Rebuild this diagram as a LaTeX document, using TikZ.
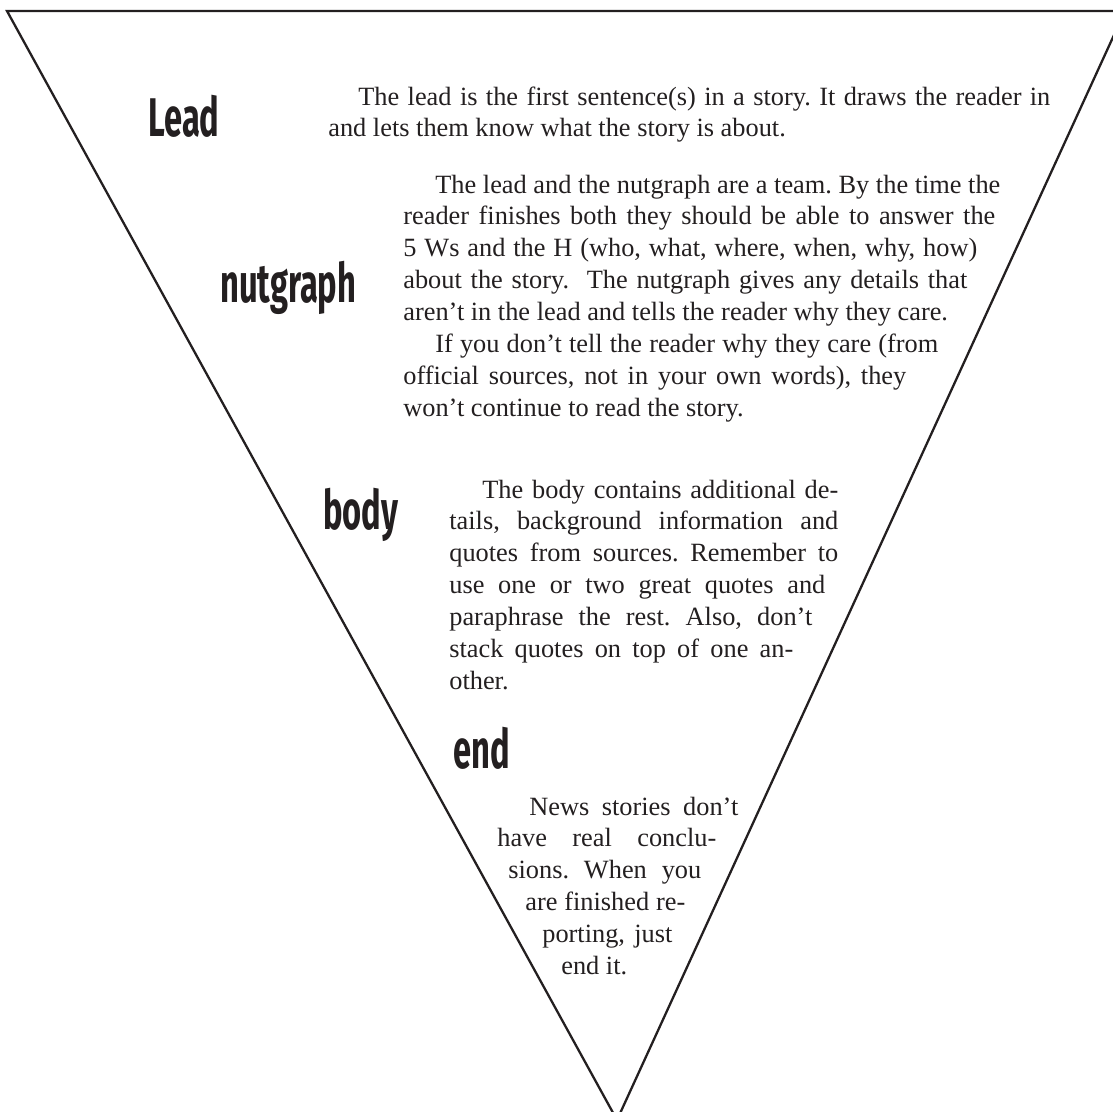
\documentclass[tikz,border=0pt]{standalone}
\usepackage{fontspec}
\setmainfont{Liberation Serif}
\newfontfamily\headfont{Fira Sans}

\definecolor{ink}{HTML}{231F20}
\newdimen\pxu \pxu=0.02cm
\newcommand\sqz[1]{\scalebox{0.6}[1]{#1}}
\newcommand\parset{\frenchspacing\parindent=0pt\leftskip=0pt\rightskip=0pt\spaceskip=0pt\xspaceskip=0pt\parfillskip=0pt plus 1fil\tolerance=9999\hyphenpenalty=10000\relax}

\tikzset{
  head/.style={anchor=base west, inner sep=0pt, text=ink, font=\headfont\bfseries\fontsize{31}{31}\selectfont},
  para/.style={anchor=base west, inner sep=0pt, text=ink, font=\fontsize{15}{18.2}\selectfont}
}

\begin{document}
\begin{tikzpicture}[x=0.02cm, y=-0.02cm]
  \useasboundingbox (0,0) rectangle (1113,1112);
  \clip (0,0) rectangle (1113,1112);
  % the funnel
  \draw[ink, line width=1.3pt] (1125,11) -- (7,11) -- (617,1120) -- cycle;
  % headings
  \node[head] (lead) at (148,136) {\sqz{Lead}};
  \node[head] (nut) at (220,302) {\sqz{nutgraph}};
  \node[head] (body) at (323,529) {\sqz{body}};
  \node[head] (endhead) at (453,768) {\sqz{end}};
  % text blocks
  \node[para, text width=722\pxu] (leadtext) at (328,105) {\parset
    \parshape 2 30\pxu 692\pxu 0pt 722\pxu
    The lead is the first sentence(s) in a story. It draws the reader in\linebreak
    and lets them know what the story is about.\par};
  \node[para, text width=600\pxu] (nuttext) at (403,193) {\parset
    \parshape 5 32\pxu 565\pxu 0pt 592\pxu 0pt 574\pxu 0pt 564\pxu 0pt 560\pxu
    The lead and the nutgraph are a team. By the time the\linebreak
    reader finishes both they should be able to answer the\linebreak
    5 Ws and the H (who, what, where, when, why, how)\linebreak
    about the story.\ \ The nutgraph gives any details that\linebreak
    aren't in the lead and tells the reader why they care.\par
    \parshape 3 32\pxu 503\pxu 0pt 503\pxu 0pt 490\pxu
    If you don't tell the reader why they care (from\linebreak
    official sources, not in your own words), they\linebreak
    won't continue to read the story.\par};
  \node[para, text width=390\pxu] (bodytext) at (449,498) {\parset
    \parshape 7 33\pxu 356\pxu 0pt 389\pxu 0pt 389\pxu 0pt 376\pxu 0pt 363\pxu 0pt 344\pxu 0pt 344\pxu
    The body contains additional de-\linebreak
    tails, background information and\linebreak
    quotes from sources. Remember to\linebreak
    use one or two great quotes and\linebreak
    paraphrase the rest. Also, don't\linebreak
    stack quotes on top of one an-\linebreak
    other.\par};
  \node[para, text width=241\pxu] (endtext) at (497,815) {\parset
    \parshape 6 32\pxu 209\pxu 0pt 219\pxu 11\pxu 193\pxu 28\pxu 160\pxu 45\pxu 130\pxu 64\pxu 100\pxu
    News stories don't\linebreak
    have real conclu-\linebreak
    sions. When you\linebreak
    are finished re-\linebreak
    porting, just\linebreak
    end it.\par};
\end{tikzpicture}
\end{document}
